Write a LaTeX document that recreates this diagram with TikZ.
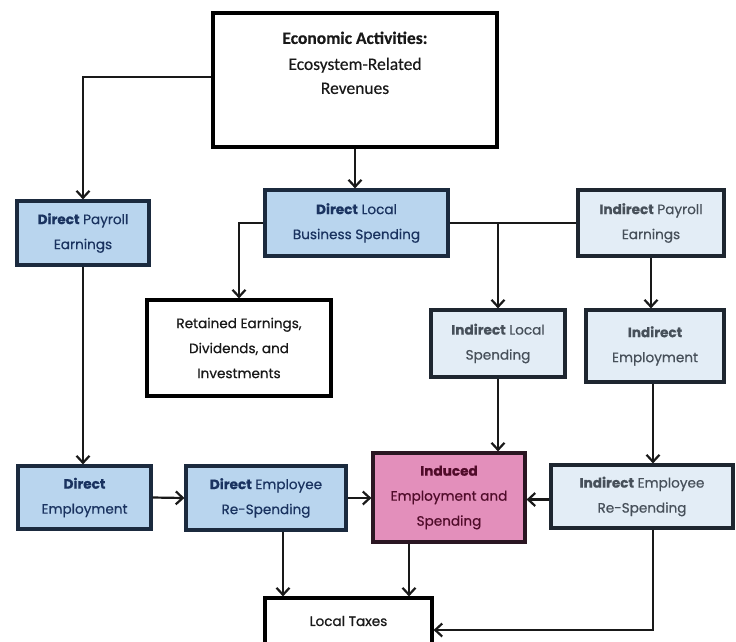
\documentclass[tikz,border=0pt]{standalone}
\usepackage{fontspec}
\setmainfont{Poppins}[FakeBold=0.6]
\newfontfamily\calfont{Carlito}[FakeBold=0.3]
\usetikzlibrary{arrows.meta}
\definecolor{dfill}{HTML}{B9D5EE}
\definecolor{dtext}{HTML}{1A3360}
\definecolor{dline}{HTML}{1B2A3E}
\definecolor{ifill}{HTML}{E3EDF6}
\definecolor{itext}{HTML}{47505A}
\definecolor{iline}{HTML}{1E2630}
\definecolor{pfill}{HTML}{E38FBB}
\definecolor{ptext}{HTML}{500C2A}
\definecolor{pline}{HTML}{2A1622}
\tikzset{
  box/.style={draw, line width=3.2pt, inner sep=2pt, align=center,
    font=\fontsize{13.6}{25}\selectfont},
  dbox/.style={box, fill=dfill, draw=dline, text=dtext},
  ibox/.style={box, fill=ifill, draw=iline, text=itext},
  pbox/.style={box, fill=pfill, draw=pline, text=ptext},
  wbox/.style={box, fill=white, draw=black, text=black!90},
  conn/.style={line width=2.2pt, black!90},
  arr/.style={conn, -{Straight Barb[length=7pt,width=13pt,line width=2.2pt]}}
}
\begin{document}
\begin{tikzpicture}[x=1pt,y=-1pt]
\useasboundingbox (0,0) rectangle (736,641);
\clip (0,0) rectangle (736,641);
\fill[white] (0,0) rectangle (736,641);
% boxes
\node[wbox, minimum width=284pt, minimum height=134pt] (top) at (355,80) {};
\node[font=\calfont\fontsize{17.5}{24}\selectfont, align=center, anchor=north, inner sep=0pt, text=black!90]
  (toptext) at ([yshift=-20pt]top.north) {\textbf{Economic Activities:}\\[2pt]Ecosystem-Related\\Revenues};
\node[dbox, minimum width=132pt, minimum height=64pt] (dpay) at (83,233) {\textbf{Direct} Payroll\\Earnings};
\node[dbox, minimum width=183pt, minimum height=66pt] (dloc) at (356.5,223) {\textbf{Direct} Local\\Business Spending};
\node[ibox, minimum width=146pt, minimum height=66pt] (ipay) at (651,223) {\textbf{Indirect} Payroll\\Earnings};
\node[wbox, minimum width=184pt, minimum height=96pt] (ret) at (239,348) {Retained Earnings,\\Dividends, and\\Investments};
\node[ibox, minimum width=134pt, minimum height=67pt] (iloc) at (498,343.5) {\textbf{Indirect} Local\\Spending};
\node[ibox, minimum width=138pt, minimum height=72pt] (iemp) at (655,346) {\textbf{Indirect}\\Employment};
\node[dbox, minimum width=133pt, minimum height=63pt] (demp) at (84.5,497.5) {\textbf{Direct}\\Employment};
\node[dbox, minimum width=160pt, minimum height=64pt] (dere) at (266,498) {\textbf{Direct} Employee\\Re-Spending};
\node[pbox, minimum width=152pt, minimum height=89pt] (ind) at (449,497.5) {\textbf{Induced}\\Employment and\\Spending};
\node[ibox, minimum width=182pt, minimum height=63pt] (iere) at (642,496.5) {\textbf{Indirect} Employee\\Re-Spending};
\node[wbox, minimum width=167pt, minimum height=46pt] (tax) at (348.5,621) {Local Taxes};
% connectors
\draw[arr] ([yshift=3pt]top.west) -| (dpay.north);
\draw[arr] (top.south) -- (top.south |- dloc.north);
\draw[conn] (dloc.east) -- (ipay.west);
\draw[arr] (iloc.north |- dloc.east) -- (iloc.north);
\draw[arr] (dloc.west) -| (ret.north);
\draw[arr] (ipay.south) -- (ipay.south |- iemp.north);
\draw[arr] (dpay.south) -- (dpay.south |- demp.north);
\draw[arr] (iloc.south) -- (iloc.south |- ind.north);
\draw[arr] ([xshift=-2pt]iemp.south) -- ([xshift=-2pt]iemp.south |- iere.north);
\draw[arr] (demp.east) -- (dere.west);
\draw[arr] (dere.east) -- (dere.east -| ind.west);
\draw[arr] ([yshift=-3pt]iere.west) -- ([yshift=-3pt]iere.west -| ind.east);
\draw[arr] ([xshift=17pt]dere.south) -- ([xshift=17pt]dere.south |- tax.north);
\draw[arr] ([xshift=-40pt]ind.south) -- ([xshift=-40pt]ind.south |- tax.north);
\draw[arr] ([xshift=11pt]iere.south) |- ([yshift=-9pt]tax.east);
\end{tikzpicture}
\end{document}
